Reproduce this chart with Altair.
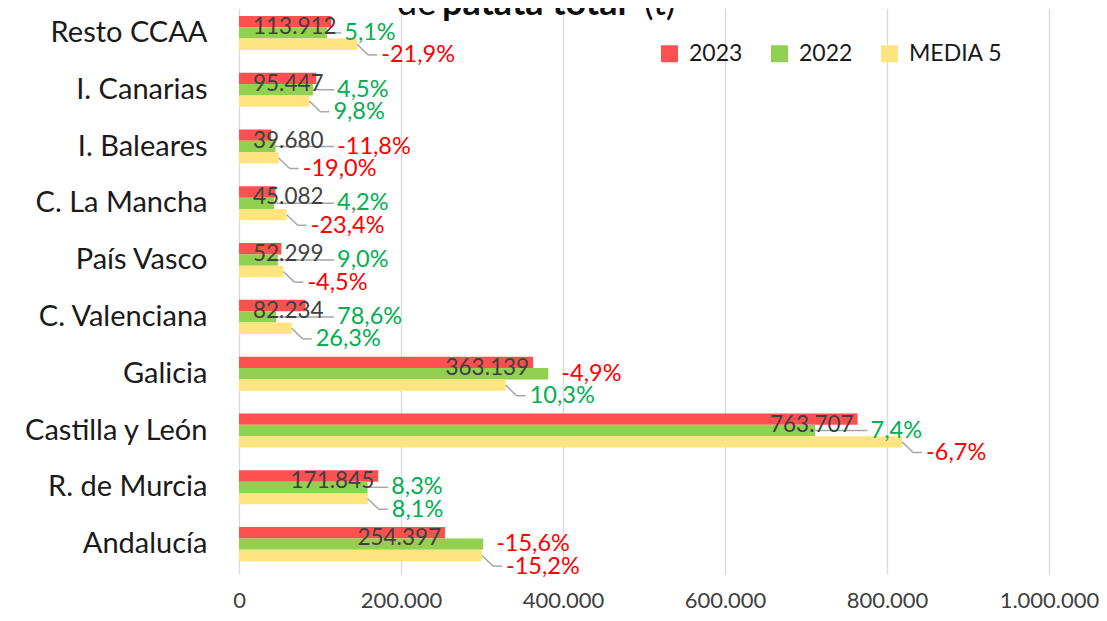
import altair as alt
import pandas as pd

regions = ["Resto CCAA", "I. Canarias", "I. Baleares", "C. La Mancha", "País Vasco",
           "C. Valenciana", "Galicia", "Castilla y León", "R. de Murcia", "Andalucía"]
v2023 = [113912, 95447, 39680, 45082, 52299, 82234, 363139, 763707, 171845, 254397]
v2022 = [108400, 91300, 45000, 43300, 48000, 46000, 381900, 711100, 158700, 301400]
media5 = [145900, 86900, 49000, 58900, 54800, 65100, 329200, 818600, 159000, 300000]
pct22 = ["5,1%", "4,5%", "-11,8%", "4,2%", "9,0%", "78,6%", "-4,9%", "7,4%", "8,3%", "-15,6%"]
pct5 = ["-21,9%", "9,8%", "-19,0%", "-23,4%", "-4,5%", "26,3%", "10,3%", "-6,7%", "8,1%", "-15,2%"]
series = ["2023", "2022", "MEDIA 5"]
colors = ["#FF5050", "#92D050", "#FFE47F"]
ticks = [0, 200000, 400000, 600000, 800000, 1000000]

rows = []
for i, r in enumerate(regions):
    for s, vals in zip(series, [v2023, v2022, media5]):
        rows.append({"region": r, "serie": s, "value": vals[i]})
long = pd.DataFrame(rows)
wide = pd.DataFrame({"region": regions, "v2023": v2023, "v2022": v2022, "media5": media5,
                     "p22": pct22, "p5": pct5})

xscale = alt.Scale(domain=[0, 1000000], nice=False)
yscale = alt.Scale(paddingInner=0.4, paddingOuter=0.1825, align=0.38)

xaxis = alt.Axis(title=None, values=ticks,
                 labelExpr="replace(format(datum.value, ','), /,/g, '.')",
                 labelFlush=False, labelOverlap=False,
                 grid=True, gridColor="#d9d9d9", gridWidth=1.3, domain=False, ticks=False,
                 labelFontSize=22, labelColor="#404040", labelPadding=16)
yaxis = alt.Axis(title=None, labelFontSize=29, labelColor="#1a1a1a", labelPadding=32,
                 labelLimit=400, ticks=False, domain=False)


def Y():
    return alt.Y("region:N", sort=regions, scale=yscale, title=None)


bars = alt.Chart(long).mark_bar().encode(
    x=alt.X("value:Q", scale=xscale, axis=xaxis, title=None),
    y=alt.Y("region:N", sort=regions, scale=yscale, axis=yaxis, title=None),
    yOffset=alt.YOffset("serie:N", sort=series, scale=alt.Scale(paddingInner=0, paddingOuter=0)),
    color=alt.Color("serie:N", sort=series, scale=alt.Scale(domain=series, range=colors),
                    legend=alt.Legend(title=None, orient="none", legendX=419, legendY=34,
                                      direction="horizontal", symbolType="square",
                                      symbolSize=289, symbolStrokeWidth=0,
                                      labelFontSize=23, labelColor="#1a1a1a",
                                      columnPadding=25, labelOffset=8, padding=0)),
)

base = alt.Chart(wide).transform_calculate(
    lab="replace(format(datum.v2023, ','), /,/g, '.')",
    x22="max(datum.v2023, datum.v2022, 105000)",
)

val_big = base.transform_filter("datum.v2023 >= 150000").mark_text(
    align="right", baseline="middle", dx=-4, dy=-6, fontSize=22.5, color="#404040"
).encode(x=alt.X("v2023:Q", scale=xscale, title=None), y=Y(), text="lab:N")

val_small = base.transform_filter("datum.v2023 < 150000").mark_text(
    align="left", baseline="middle", dx=14, dy=-6, fontSize=22.5, color="#404040"
).encode(x=alt.datum(0), y=Y(), text="lab:N")

lead22 = base.transform_filter("datum.x22 > datum.v2022").mark_rule(
    color="#a6a6a6", strokeWidth=1.5, x2Offset=10
).encode(x=alt.X("v2022:Q", scale=xscale, title=None), x2="x22:Q", y=Y())

txt22 = base.mark_text(align="left", baseline="middle", dx=13, dy=0, fontSize=23.5).encode(
    x=alt.X("x22:Q", scale=xscale, title=None), y=Y(), text="p22:N",
    color=alt.condition("indexof(datum.p22, '-') < 0", alt.value("#00B050"), alt.value("#FF0000")),
)

lead5a = base.mark_rule(color="#a6a6a6", strokeWidth=1.5, yOffset=11.4, y2Offset=22,
                        x2Offset=11).encode(
    x=alt.X("media5:Q", scale=xscale, title=None), x2="media5:Q", y=Y(), y2="region:N")
lead5b = base.mark_rule(color="#a6a6a6", strokeWidth=1.5, yOffset=22, xOffset=11,
                        x2Offset=20).encode(
    x=alt.X("media5:Q", scale=xscale, title=None), x2="media5:Q", y=Y())

txt5 = base.mark_text(align="left", baseline="middle", dx=24, dy=22.5, fontSize=23.5).encode(
    x=alt.X("media5:Q", scale=xscale, title=None), y=Y(), text="p5:N",
    color=alt.condition("indexof(datum.p5, '-') < 0", alt.value("#00B050"), alt.value("#FF0000")),
)

one = pd.DataFrame({"k": [0]})
t1 = alt.Chart(one).mark_text(text="de", align="left", baseline="alphabetic", fontSize=36,
                              color="#0d0d0d").encode(x=alt.value(158), y=alt.value(7))
t2 = alt.Chart(one).mark_text(text="patata total", align="left", baseline="alphabetic",
                              fontSize=36, fontWeight="bold", color="#0d0d0d").encode(
    x=alt.value(203), y=alt.value(7))
t3 = alt.Chart(one).mark_text(text="(t)", align="left", baseline="alphabetic", fontSize=36,
                              color="#0d0d0d").encode(x=alt.value(405), y=alt.value(7))

chart = alt.layer(bars, lead22, lead5a, lead5b, val_big, val_small, txt22, txt5, t1, t2, t3).properties(
    width=810, height=566,
    autosize=alt.AutoSizeParams(type="none"),
    padding={"left": 231, "top": 0, "right": 50, "bottom": 39},
    background="white",
).configure(font="Lato").configure_view(stroke=None)

chart.save("out.html", embed_options={"renderer": "svg", "actions": False})
